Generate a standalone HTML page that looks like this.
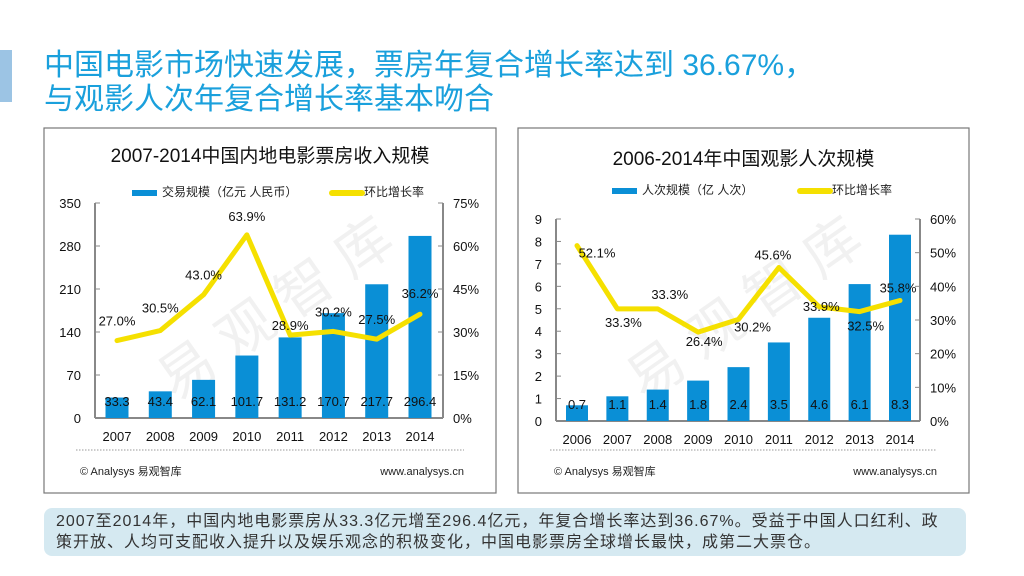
<!DOCTYPE html>
<html><head><meta charset="utf-8"><style>
body{margin:0;width:1024px;height:576px;background:#fff;overflow:hidden;font-family:"Liberation Sans","Noto Sans CJK SC",sans-serif;position:relative}
.t{position:absolute;left:44px;color:#1aa0dc;font-size:30px;line-height:32px;white-space:nowrap}
</style></head><body>
<div style="position:absolute;left:0;top:50px;width:12px;height:52px;background:#9cc4e4"></div>
<div class="t" style="top:50px">中国电影市场快速发展，票房年复合增长率达到 36.67%，</div>
<div class="t" style="top:84px">与观影人次年复合增长率基本吻合</div>
<svg id="svg" width="1024" height="576" style="position:absolute;left:0;top:0" font-family="Liberation Sans, Noto Sans CJK SC, sans-serif"></svg>
<div style="position:absolute;left:44px;top:508px;width:922px;height:48px;background:#d5e9f1;border-radius:8px;font-size:16px;letter-spacing:1px;line-height:21px;color:#333;padding:3px 0 0 12px;box-sizing:border-box;white-space:nowrap;overflow:hidden">2007至2014年，中国内地电影票房从33.3亿元增至296.4亿元，年复合增长率达到36.67%。受益于中国人口红利、政<br>策开放、人均可支配收入提升以及娱乐观念的积极变化，中国电影票房全球增长最快，成第二大票仓。</div>
<script>
const c1Years=["2007","2008","2009","2010","2011","2012","2013","2014"];
const c1Bars=[33.3,43.4,62.1,101.7,131.2,170.7,217.7,296.4];
const c1Rate=[27.0,30.5,43.0,63.9,28.9,30.2,27.5,36.2];
const c1LeftTicks=[0,70,140,210,280,350];
const c1RightTicks=[0,15,30,45,60,75];
const c2Years=["2006","2007","2008","2009","2010","2011","2012","2013","2014"];
const c2Bars=[0.7,1.1,1.4,1.8,2.4,3.5,4.6,6.1,8.3];
const c2Rate=[52.1,33.3,33.3,26.4,30.2,45.6,33.9,32.5,35.8];
const c2LeftTicks=[0,1,2,3,4,5,6,7,8,9];
const c2RightTicks=[0,10,20,30,40,50,60];
const svg=document.getElementById('svg');
const NS='http://www.w3.org/2000/svg';
function el(tag,a,parent){const e=document.createElementNS(NS,tag);for(const k in a)e.setAttribute(k,a[k]);(parent||svg).appendChild(e);return e;}
function txt(s,x,y,a,size,anchor,fill){const e=el('text',{x:x,y:y,'font-size':size||13,'text-anchor':anchor||'middle',fill:fill||'#111'},a);e.textContent=s;return e;}
function chart(o){
  const g=el('g',{});
  
  
  const box=el('rect',{x:o.bx,y:128,width:o.bw,height:365,fill:'#fff',stroke:'#777','stroke-width':1.2},g);
  
  const tt=txt(o.title,o.bx+o.bw/2,o.ty,g,19,'middle','#111');
  
  const wm=txt('易 观 智 库',(o.x0+o.x1)/2,330,g,56,'middle','#f1f1f1');
  wm.setAttribute('transform','rotate(-35 '+((o.x0+o.x1)/2)+' 300)');
  
  const n=o.cats.length, step=(o.c1-o.c0)/(n-1);
  const X=i=>o.c0+i*step;
  const YL=v=>o.y0-v/o.lmax*(o.y0-o.yt);
  const YR=v=>o.y0-v/o.rmax*(o.y0-o.yt);
  const lg=el('g',{},g);
  el('rect',{x:o.lx,y:o.ly-6,width:25,height:6,fill:'#0a8fd6'},lg);
  txt(o.leg1,o.lx+30,o.ly,lg,12,'start','#222');
  el('line',{x1:o.lx2,y1:o.ly-3,x2:o.lx2+30,y2:o.ly-3,stroke:'#f5e000','stroke-width':6,'stroke-linecap':'round'},lg);
  txt('环比增长率',o.lx2+32,o.ly,lg,12,'start','#222');
  el('line',{x1:o.x0,y1:o.yt,x2:o.x0,y2:o.y0,stroke:'#888','stroke-width':2},g);
  el('line',{x1:o.x1,y1:o.yt,x2:o.x1,y2:o.y0,stroke:'#888','stroke-width':2},g);
  el('line',{x1:o.x0,y1:o.y0,x2:o.x1,y2:o.y0,stroke:'#888','stroke-width':2},g);
  o.lt.forEach(v=>{el('line',{x1:o.x0,y1:YL(v),x2:o.x0+5,y2:YL(v),stroke:'#888'},g);const t=txt(String(v),o.x0-14,YL(v)+5,g,13,'end');});
  o.rt.forEach(v=>{el('line',{x1:o.x1-5,y1:YR(v),x2:o.x1,y2:YR(v),stroke:'#888'},g);const t=txt(v+'%',o.x1+10,YR(v)+5,g,13,'start');});
  o.bars.forEach((v,i)=>{
    const r=el('rect',{x:X(i)-o.bwid/2,y:YL(v),width:o.bwid,height:o.y0-YL(v),fill:'#0a8fd6'},g);
    
    const t=txt(String(v),X(i),o.vy,g,13,'middle','#111');
    const c=txt(o.cats[i],X(i),o.y0+23,g,13,'middle','#111');
  });
  const pts=o.rate.map((v,i)=>X(i)+','+YR(v)).join(' ');
  const pl=el('polyline',{points:pts,fill:'none',stroke:'#f5e000','stroke-width':5,'stroke-linejoin':'round','stroke-linecap':'round'},g);
  
  o.rate.forEach((v,i)=>{const t=txt(v.toFixed(1)+'%',X(i)+o.dx[i],YR(v)+o.dy[i],g,13,'middle','#111');});
  el('line',{x1:o.bx+32,y1:450,x2:o.bx+o.bw-32,y2:450,stroke:'#999','stroke-dasharray':'1.5 1.5'},g);
  const f1=txt('© Analysys 易观智库',o.bx+36,475,g,11,'start','#222');
  const f2=txt('www.analysys.cn',o.bx+o.bw-32,475,g,11,'end','#222');
}
chart({name:'box-office-chart',bx:44,bw:452,title:'2007-2014中国内地电影票房收入规模',ty:162,x0:95,x1:443,y0:418,yt:203,c0:117,c1:420,bwid:23,lmax:350,rmax:75,lt:c1LeftTicks,rt:c1RightTicks,cats:c1Years,bars:c1Bars,rate:c1Rate,vy:406,lx:132,ly:196,lx2:332,leg1:'交易规模（亿元 人民币）',dx:[0,0,0,0,0,0,0,0],dy:[-15,-18,-15,-14,-5,-15,-15,-16]});
chart({name:'attendance-chart',bx:518,bw:451,title:'2006-2014年中国观影人次规模',ty:165,x0:556,x1:920,y0:421,yt:219,c0:577,c1:900,bwid:22,lmax:9,rmax:60,lt:c2LeftTicks,rt:c2RightTicks,cats:c2Years,bars:c2Bars,rate:c2Rate,vy:409,lx:612,ly:194,lx2:800,leg1:'人次规模（亿 人次）',dx:[20,6,12,6,14,-6,2,6,-2],dy:[12,18,-10,14,12,-8,4,19,-8]});
</script>
</body></html>
